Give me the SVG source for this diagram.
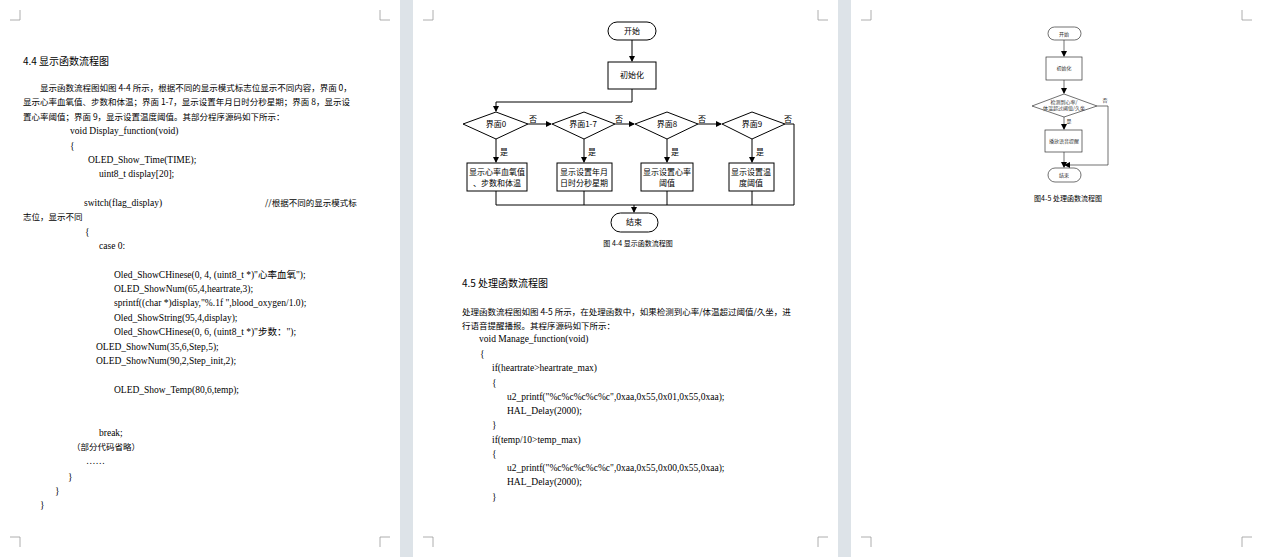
<svg xmlns="http://www.w3.org/2000/svg" width="1262" height="557" viewBox="0 0 1262 557">
<defs>
<marker id="ar" markerWidth="6" markerHeight="6" refX="5" refY="3" orient="auto" markerUnits="userSpaceOnUse"><path d="M0,0 L6,3 L0,6 z" fill="#000"/></marker>
<style>
.pg{fill:#fff}
.cm{stroke:#999;stroke-width:0.8;fill:none}
.zh{font-family:"Noto Sans CJK SC","Noto Sans",sans-serif;font-size:8.5px;fill:#000}
.cd{font-family:"Liberation Serif","Noto Sans CJK SC",serif;font-size:9.5px;fill:#000}
.h{font-family:"Noto Sans CJK SC",sans-serif;font-size:10px;fill:#000}
.s{fill:#fff;stroke:#000;stroke-width:1}
.s2{fill:#fff;stroke:#333;stroke-width:0.7}
.ln{fill:none;stroke:#000;stroke-width:1}
.ln2{fill:none;stroke:#333;stroke-width:0.7}
.ft{font-family:"Noto Sans CJK SC",sans-serif;font-size:8px;fill:#000;text-anchor:middle}
.fs{font-family:"Noto Sans CJK SC",sans-serif;font-size:5px;fill:#333;text-anchor:middle}
.cap{font-family:"Noto Sans CJK SC",sans-serif;font-size:7px;fill:#000;text-anchor:middle}
</style>
</defs>
<rect width="1262" height="557" fill="#dde3e8"/>
<rect class="pg" x="0" y="0" width="400" height="557"/>
<rect class="pg" x="413" y="0" width="425" height="557"/>
<rect class="pg" x="851" y="0" width="411" height="557"/>
<g id="cornermarks">
<path class="cm" d="M20,10 V20 H10 M380,10 V20 H390 M20,547 V537 H10 M380,547 V537 H390"/>
<path class="cm" d="M433,10 V20 H423 M818,10 V20 H828 M433,547 V537 H423 M818,547 V537 H828"/>
<path class="cm" d="M871,10 V20 H861 M1242,10 V20 H1252 M871,547 V537 H861 M1242,547 V537 H1252"/>
</g>
<g id="page1">
<text class="h" x="23" y="65">4.4  显示函数流程图</text>
<text class="zh" x="40" y="91">显示函数流程图如图 4-4 所示，根据不同的显示模式标志位显示不同内容，界面 0，</text>
<text class="zh" x="23" y="105">显示心率血氧值、步数和体温；界面 1-7，显示设置年月日时分秒星期；界面 8，显示设</text>
<text class="zh" x="23" y="120">置心率阈值；界面 9，显示设置温度阈值。其部分程序源码如下所示：</text>
<text class="cd" x="70" y="134">void Display_function(void)</text>
<text class="cd" x="70" y="149">{</text>
<text class="cd" x="88" y="163">OLED_Show_Time(TIME);</text>
<text class="cd" x="99" y="177">uint8_t display[20];</text>
<text class="cd" x="84" y="206">switch(flag_display)</text>
<text class="zh" x="265" y="206">//根据不同的显示模式标</text>
<text class="zh" x="23" y="220">志位，显示不同</text>
<text class="cd" x="85" y="235">{</text>
<text class="cd" x="99" y="249">case 0:</text>
<text class="cd" x="114" y="278">Oled_ShowCHinese(0, 4, (uint8_t *)"心率血氧");</text>
<text class="cd" x="114" y="292">OLED_ShowNum(65,4,heartrate,3);</text>
<text class="cd" x="114" y="306">sprintf((char *)display,"%.1f   ",blood_oxygen/1.0);</text>
<text class="cd" x="114" y="321">Oled_ShowString(95,4,display);</text>
<text class="cd" x="114" y="335">Oled_ShowCHinese(0, 6, (uint8_t *)"步数：");</text>
<text class="cd" x="96" y="350">OLED_ShowNum(35,6,Step,5);</text>
<text class="cd" x="96" y="364">OLED_ShowNum(90,2,Step_init,2);</text>
<text class="cd" x="114" y="393">OLED_Show_Temp(80,6,temp);</text>
<text class="cd" x="99" y="436">break;</text>
<text class="zh" x="72" y="450">（部分代码省略）</text>
<text class="cd" x="86" y="464">……</text>
<text class="cd" x="68" y="480">}</text>
<text class="cd" x="55" y="494">}</text>
<text class="cd" x="40" y="508">}</text>
</g>
<g id="connectors">
<path class="ln" d="M632,40 V61" marker-end="url(#ar)"/>
<path class="ln" d="M632,89 V102 H496 V111" marker-end="url(#ar)"/>
<path class="ln" d="M528,124 H551" marker-end="url(#ar)"/>
<path class="ln" d="M615,124 H634" marker-end="url(#ar)"/>
<path class="ln" d="M698,124 H721" marker-end="url(#ar)"/>
<path class="ln" d="M785,124 H794 V205 H496"/>
<path class="ln" d="M496,139 V162" marker-end="url(#ar)"/>
<path class="ln" d="M584,139 V162" marker-end="url(#ar)"/>
<path class="ln" d="M667,139 V162" marker-end="url(#ar)"/>
<path class="ln" d="M752,139 V162" marker-end="url(#ar)"/>
<path class="ln" d="M496,191 V205 M584,191 V205 M667,191 V205 M752,191 V205"/>
<path class="ln" d="M634,205 V212" marker-end="url(#ar)"/>
<path class="ln2" d="M1064,40 V56" marker-end="url(#ar)"/>
<path class="ln2" d="M1064,80 V93" marker-end="url(#ar)"/>
<path class="ln2" d="M1064,117 V129" marker-end="url(#ar)"/>
<path class="ln2" d="M1064,152 V167" marker-end="url(#ar)"/>
<path class="ln2" d="M1097,106 H1108 V165 H1065" marker-end="url(#ar)"/>
</g>
<g id="start1"><rect class="s" x="608" y="22" width="48" height="18" rx="9"/><text class="ft" x="632" y="34">开始</text></g>
<g id="init1"><rect class="s" x="608" y="62" width="48" height="27"/><text class="ft" x="632" y="78">初始化</text></g>
<g id="d0"><polygon class="s" points="463,124 496,112 528,124 496,139"/><text class="ft" x="496" y="127">界面0</text></g>
<g id="d1"><polygon class="s" points="552,124 584,112 615,124 584,139"/><text class="ft" x="583" y="127">界面1-7</text></g>
<g id="d8"><polygon class="s" points="635,124 667,112 698,124 667,139"/><text class="ft" x="667" y="127">界面8</text></g>
<g id="d9"><polygon class="s" points="722,124 752,112 785,124 752,139"/><text class="ft" x="752" y="127">界面9</text></g>
<g id="labels1">
<text class="ft" x="533" y="122">否</text><text class="ft" x="619" y="122">否</text><text class="ft" x="702" y="122">否</text><text class="ft" x="788" y="122">否</text>
<text class="ft" x="504" y="155">是</text><text class="ft" x="592" y="155">是</text><text class="ft" x="675" y="155">是</text><text class="ft" x="760" y="155">是</text>
</g>
<g id="b0"><rect class="s" x="467" y="163" width="60" height="28"/><text class="ft" x="497" y="175">显示心率血氧值</text><text class="ft" x="497" y="186">、步数和体温</text></g>
<g id="b1"><rect class="s" x="557" y="163" width="55" height="28"/><text class="ft" x="584" y="175">显示设置年月</text><text class="ft" x="584" y="186">日时分秒星期</text></g>
<g id="b8"><rect class="s" x="641" y="163" width="52" height="28"/><text class="ft" x="667" y="175">显示设置心率</text><text class="ft" x="667" y="186">阈值</text></g>
<g id="b9"><rect class="s" x="729" y="163" width="45" height="28"/><text class="ft" x="751" y="175">显示设置温</text><text class="ft" x="751" y="186">度阈值</text></g>
<g id="end1"><rect class="s" x="611" y="213" width="47" height="19" rx="9.5"/><text class="ft" x="634" y="225">结束</text></g>
<text class="cap" x="638" y="246">图 4-4   显示函数流程图</text>
<g id="page2text">
<text class="h" x="462" y="287">4.5  处理函数流程图</text>
<text class="zh" x="462" y="315">处理函数流程图如图 4-5 所示，在处理函数中，如果检测到心率/体温超过阈值/久坐，进</text>
<text class="zh" x="462" y="329">行语音提醒播报。其程序源码如下所示：</text>
<text class="cd" x="479" y="342">void Manage_function(void)</text>
<text class="cd" x="480" y="357">{</text>
<text class="cd" x="492" y="371">if(heartrate&gt;heartrate_max)</text>
<text class="cd" x="492" y="386">{</text>
<text class="cd" x="507" y="400">u2_printf("%c%c%c%c%c",0xaa,0x55,0x01,0x55,0xaa);</text>
<text class="cd" x="507" y="414">HAL_Delay(2000);</text>
<text class="cd" x="492" y="428">}</text>
<text class="cd" x="492" y="443">if(temp/10&gt;temp_max)</text>
<text class="cd" x="492" y="457">{</text>
<text class="cd" x="507" y="471">u2_printf("%c%c%c%c%c",0xaa,0x55,0x00,0x55,0xaa);</text>
<text class="cd" x="507" y="485">HAL_Delay(2000);</text>
<text class="cd" x="492" y="500">}</text>
</g>
<g id="start2"><rect class="s2" x="1048" y="27" width="33" height="13" rx="6.5"/><text class="fs" x="1064" y="35.5">开始</text></g>
<g id="init2"><rect class="s2" x="1046" y="57" width="36" height="23"/><text class="fs" x="1064" y="70">初始化</text></g>
<g id="dec2"><polygon class="s2" points="1032,106 1064,94 1097,106 1064,117"/><text class="fs" x="1064" y="104">检测到心率/</text><text class="fs" x="1064" y="110">体温超过阈值/久坐</text></g>
<text class="fs" x="1105" y="102">否</text>
<text class="fs" x="1069" y="123">是</text>
<g id="voice2"><rect class="s2" x="1045" y="130" width="37" height="22"/><text class="fs" x="1064" y="143">播放语音提醒</text></g>
<g id="end2"><rect class="s2" x="1048" y="168" width="33" height="14" rx="7"/><text class="fs" x="1064" y="177">结束</text></g>
<text class="cap" x="1068" y="201">图4-5   处理函数流程图</text>
</svg>
